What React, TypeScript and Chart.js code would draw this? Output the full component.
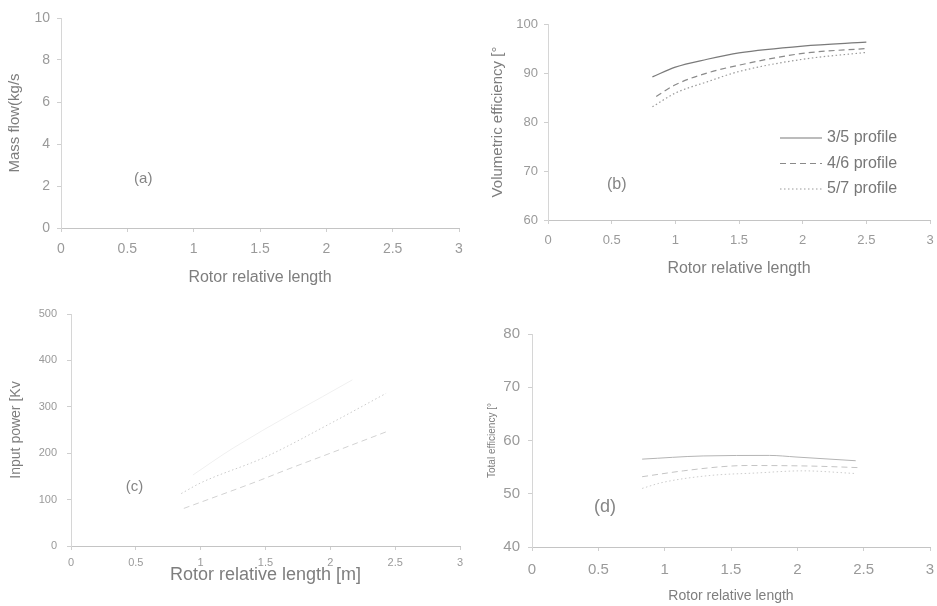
import React, { useEffect, useRef } from "react";
import { Chart, registerables } from "chart.js";
Chart.register(...registerables);

// ---------- data ----------
const xTickValues = [0, 0.5, 1, 1.5, 2, 2.5, 3];
const seriesLabels = ["3/5 profile", "4/6 profile", "5/7 profile"];

// (b) Volumetric efficiency [%]
const volX35 = [0.82, 1.0, 1.25, 1.5, 2.0, 2.5];
const volY35 = [89.2, 91.2, 92.8, 94.1, 95.5, 96.3];
const volX46 = [0.85, 1.0, 1.25, 1.5, 2.0, 2.5];
const volY46 = [85.2, 87.6, 90.0, 91.6, 94.0, 95.0];
const volX57 = [0.82, 1.0, 1.25, 1.5, 2.0, 2.5];
const volY57 = [83.1, 85.9, 88.2, 90.3, 92.8, 94.2];

// (c) Input power [kW]
const powX35 = [0.94, 1.25, 2.17];
const powY35 = [153, 211, 358];
const powX46 = [0.87, 1.46, 1.65, 2.0, 2.43];
const powY46 = [81, 142, 163, 200, 246];
const powX57 = [0.85, 1.0, 1.5, 2.0, 2.43];
const powY57 = [113, 136, 192, 264, 329];

// (d) Total efficiency [%]
const effX35 = [0.83, 1.29, 1.79, 1.99, 2.44];
const effY35 = [56.5, 57.1, 57.2, 56.9, 56.2];
const effX46 = [0.83, 1.14, 1.44, 1.62, 2.1, 2.47];
const effY46 = [53.2, 54.3, 55.1, 55.3, 55.2, 54.9];
const effX57 = [0.83, 0.98, 1.33, 1.69, 2.04, 2.44];
const effY57 = [51.0, 52.1, 53.4, 53.9, 54.3, 53.8];

const FONT = "'Liberation Sans', Arial, Helvetica, sans-serif";

const pts = (xs: number[], ys: number[]) => xs.map((x, i) => ({ x, y: ys[i] }));

const DASHES = [[], [6, 4], [1.5, 2.5]];

function mkDatasets(pairs: [number[], number[]][], colors: string[], width: number) {
  return pairs.map(([xs, ys], i) => ({
    label: seriesLabels[i],
    data: pts(xs, ys),
    borderColor: colors[i],
    borderWidth: width,
    borderDash: DASHES[i],
    pointRadius: 0,
    fill: false,
    cubicInterpolationMode: "monotone" as const,
  }));
}

const annotPlugin = {
  id: "annot",
  afterDraw(chart: any, _args: any, opts: any) {
    const { ctx, scales } = chart;
    const items = (opts && opts.items) || [];
    ctx.save();
    for (const it of items) {
      ctx.font = `${it.size}px ${FONT}`;
      ctx.fillStyle = it.color;
      ctx.textAlign = "center";
      ctx.textBaseline = "middle";
      ctx.fillText(it.text, scales.x.getPixelForValue(it.x), scales.y.getPixelForValue(it.y));
    }
    ctx.restore();
  },
};

const legendPlugin = {
  id: "miniLegend",
  afterDraw(chart: any, _args: any, opts: any) {
    if (!opts || !opts.show) return;
    const { ctx, chartArea } = chart;
    ctx.save();
    chart.data.datasets.forEach((ds: any, i: number) => {
      const y = chartArea.top + opts.top + i * opts.rowGap;
      const x0 = chartArea.left + opts.left;
      ctx.strokeStyle = ds.borderColor;
      ctx.lineWidth = ds.borderWidth;
      ctx.setLineDash(ds.borderDash);
      ctx.beginPath();
      ctx.moveTo(x0, y);
      ctx.lineTo(x0 + opts.lineLen, y);
      ctx.stroke();
      ctx.setLineDash([]);
      ctx.font = `${opts.size}px ${FONT}`;
      ctx.fillStyle = opts.color;
      ctx.textAlign = "left";
      ctx.textBaseline = "middle";
      ctx.fillText(ds.label, x0 + opts.lineLen + 5, y);
    });
    ctx.restore();
  },
};

type PanelCfg = {
  left: number; top: number; width: number; height: number;
  pad: { top: number; right: number };
  yW: number; xH: number;
  yMin: number; yMax: number; yStep: number;
  tickSize: number; tickPadX: number; tickPadY: number;
  xTitle: string; xTitleSize: number; xTitlePad: number;
  yTitle: string; yTitleSize: number; yTitlePad: number;
  datasets: any[];
  label: { text: string; x: number; y: number; size: number };
  legend?: any;
};

function Panel({ cfg }: { cfg: PanelCfg }) {
  const ref = useRef<HTMLCanvasElement>(null);
  useEffect(() => {
    const axisCol = "#cfcfcf";
    const tickCol = "#9a9a9a";
    const titleCol = "#7e7e7e";
    const chart = new Chart(ref.current!, {
      type: "line",
      data: { datasets: cfg.datasets },
      plugins: [annotPlugin, legendPlugin],
      options: {
        responsive: false,
        animation: false,
        layout: { padding: { top: cfg.pad.top, right: cfg.pad.right, left: 0, bottom: 0 } },
        plugins: {
          legend: { display: false },
          tooltip: { enabled: false },
          annot: { items: [{ ...cfg.label, color: "#858585" }] },
          miniLegend: cfg.legend || { show: false },
        } as any,
        scales: {
          x: {
            type: "linear",
            min: 0,
            max: 3,
            afterBuildTicks: (s: any) => { s.ticks = xTickValues.map((v) => ({ value: v })); },
            afterFit: (s: any) => { s.height = cfg.xH; s.paddingLeft = 0; s.paddingRight = 0; },
            grid: { display: true, drawOnChartArea: false, drawTicks: true, tickLength: 4, color: axisCol },
            border: { display: true, color: "#c4c4c4", width: 1 },
            ticks: {
              maxRotation: 0,
              autoSkip: false,
              padding: cfg.tickPadX,
              color: tickCol,
              font: { family: FONT, size: cfg.tickSize },
              callback: (v: any) => String(v),
            },
            title: {
              display: true,
              text: cfg.xTitle,
              color: titleCol,
              font: { family: FONT, size: cfg.xTitleSize },
              padding: { top: 0, bottom: cfg.xTitlePad },
            },
          },
          y: {
            type: "linear",
            min: cfg.yMin,
            max: cfg.yMax,
            afterFit: (s: any) => { s.width = cfg.yW; s.paddingTop = 0; s.paddingBottom = 0; },
            grid: { display: true, drawOnChartArea: false, drawTicks: true, tickLength: 4, color: axisCol },
            border: { display: true, color: "#d6d6d6", width: 1 },
            ticks: {
              stepSize: cfg.yStep,
              padding: cfg.tickPadY,
              color: tickCol,
              font: { family: FONT, size: cfg.tickSize },
            },
            title: {
              display: true,
              text: cfg.yTitle,
              color: titleCol,
              font: { family: FONT, size: cfg.yTitleSize },
              padding: { top: cfg.yTitlePad, bottom: 0 },
            },
          },
        },
      } as any,
    });
    return () => chart.destroy();
  }, [cfg]);
  return (
    <canvas
      ref={ref}
      width={cfg.width}
      height={cfg.height}
      style={{ position: "absolute", left: cfg.left, top: cfg.top, width: cfg.width, height: cfg.height }}
    />
  );
}

const panelA: PanelCfg = {
  left: 0, top: 0, width: 468, height: 300,
  pad: { top: 18, right: 9 }, yW: 61, xH: 72,
  yMin: 0, yMax: 10, yStep: 2,
  tickSize: 14, tickPadX: 9, tickPadY: 7,
  xTitle: "Rotor relative length", xTitleSize: 16, xTitlePad: 13,
  yTitle: "Mass flow(kg/s", yTitleSize: 15, yTitlePad: 6,
  datasets: [],
  label: { text: "(a)", x: 0.62, y: 2.33, size: 15 },
};

const panelB: PanelCfg = {
  left: 468, top: 0, width: 469, height: 300,
  pad: { top: 24, right: 7 }, yW: 80, xH: 80,
  yMin: 60, yMax: 100, yStep: 10,
  tickSize: 13, tickPadX: 9, tickPadY: 6,
  xTitle: "Rotor relative length", xTitleSize: 16, xTitlePad: 22,
  yTitle: "Volumetric efficiency [°", yTitleSize: 15, yTitlePad: 21,
  datasets: mkDatasets([[volX35, volY35], [volX46, volY46], [volX57, volY57]], ["#7a7a7a", "#8a8a8a", "#9a9a9a"], 1.2),
  label: { text: "(b)", x: 0.54, y: 67.3, size: 16 },
  legend: { show: true, left: 232, top: 114, rowGap: 25.5, lineLen: 42, size: 16, color: "#777777" },
};

const panelC: PanelCfg = {
  left: 0, top: 300, width: 468, height: 306,
  pad: { top: 14, right: 8 }, yW: 71, xH: 60,
  yMin: 0, yMax: 500, yStep: 100,
  tickSize: 11, tickPadX: 6, tickPadY: 10,
  xTitle: "Rotor relative length [m]", xTitleSize: 18, xTitlePad: 20,
  yTitle: "Input power [Kv", yTitleSize: 14, yTitlePad: 8,
  datasets: mkDatasets([[powX35, powY35], [powX46, powY46], [powX57, powY57]], ["#f0f0f0", "#d2d2d2", "#cacaca"], 1),
  label: { text: "(c)", x: 0.49, y: 127, size: 15 },
};

const panelD: PanelCfg = {
  left: 468, top: 300, width: 469, height: 306,
  pad: { top: 34, right: 7 }, yW: 64, xH: 59,
  yMin: 40, yMax: 80, yStep: 10,
  tickSize: 15, tickPadX: 10, tickPadY: 8,
  xTitle: "Rotor relative length", xTitleSize: 14, xTitlePad: 1,
  yTitle: "Total efficiency [°", yTitleSize: 10, yTitlePad: 18,
  datasets: mkDatasets([[effX35, effY35], [effX46, effY46], [effX57, effY57]], ["#b4b4b4", "#c4c4c4", "#cccccc"], 1),
  label: { text: "(d)", x: 0.55, y: 47.5, size: 18 },
};

export default function App() {
  return (
    <div style={{ position: "absolute", left: 0, top: 0, width: 937, height: 606, background: "#ffffff" }}>
      <Panel cfg={panelA} />
      <Panel cfg={panelB} />
      <Panel cfg={panelC} />
      <Panel cfg={panelD} />
    </div>
  );
}
